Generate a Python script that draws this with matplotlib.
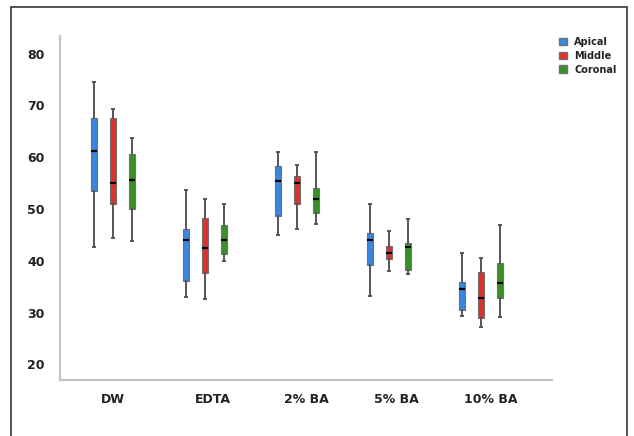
import numpy as np
import matplotlib
matplotlib.use("Agg")
import matplotlib.pyplot as plt
from matplotlib.patches import Patch, Rectangle

groups = ["DW", "EDTA", "2% BA", "5% BA", "10% BA"]
regions = ["Apical", "Middle", "Coronal"]
colors = ["#3b86e0", "#e0302e", "#3a8f2a"]

# per region: values for each group
whis_lo = {
    "Apical":  [42.6, 33.0, 45.0, 33.2, 29.4],
    "Middle":  [44.4, 32.7, 46.1, 38.0, 27.3],
    "Coronal": [43.8, 40.0, 47.1, 37.4, 29.2],
}
q1 = {
    "Apical":  [53.5, 36.1, 48.6, 39.2, 30.5],
    "Middle":  [50.9, 37.6, 50.9, 40.3, 28.9],
    "Coronal": [50.1, 41.4, 49.2, 38.3, 32.9],
}
median = {
    "Apical":  [61.2, 44.0, 55.4, 44.1, 34.5],
    "Middle":  [55.1, 42.5, 55.1, 41.6, 32.9],
    "Coronal": [55.7, 44.1, 52.0, 42.6, 35.8],
}
q3 = {
    "Apical":  [67.5, 46.1, 58.3, 45.3, 35.9],
    "Middle":  [67.5, 48.3, 56.4, 42.9, 37.9],
    "Coronal": [60.6, 46.9, 54.0, 43.5, 39.6],
}
whis_hi = {
    "Apical":  [74.5, 53.6, 61.0, 50.9, 41.5],
    "Middle":  [69.4, 51.9, 58.5, 45.8, 40.5],
    "Coronal": [63.8, 50.9, 61.0, 48.0, 46.9],
}

fig = plt.figure(figsize=(6.34, 4.36), dpi=100)
ax = fig.add_axes([60/634, 1 - 380/436, 492/634, 344/436])

x = np.arange(len(groups))
offset = 0.206
for k, r in enumerate(regions):
    stats = []
    for i in range(len(groups)):
        stats.append(dict(whislo=whis_lo[r][i], q1=q1[r][i], med=median[r][i],
                          q3=q3[r][i], whishi=whis_hi[r][i], fliers=[]))
    ax.bxp(stats, positions=x + (k - 1) * offset, widths=0.07,
           patch_artist=True, showfliers=False, manage_ticks=False,
           boxprops=dict(facecolor=colors[k], edgecolor="#707070", linewidth=0.8),
           medianprops=dict(color="black", linewidth=1.6),
           whiskerprops=dict(color="#555555", linewidth=1.4),
           capprops=dict(color="#555555", linewidth=1.4),
           capwidths=0.02)

ax.set_xlim(-0.576, 4.77)
ax.set_ylim(17, 83.4)
ax.set_yticks([20, 30, 40, 50, 60, 70, 80])
ax.set_xticks(x + np.array([0, 0.08, 0.1, 0.08, 0.1]))
ax.set_xticklabels(groups)
ax.tick_params(length=0, labelsize=9, colors="#222222")
ax.tick_params(axis="y", pad=11)
ax.tick_params(axis="x", pad=9)
for lab in ax.get_xticklabels() + ax.get_yticklabels():
    lab.set_fontweight("bold")
for s in ["top", "right"]:
    ax.spines[s].set_visible(False)
for s in ["left", "bottom"]:
    ax.spines[s].set_color("#c4c4c4")
    ax.spines[s].set_linewidth(1.6)

handles = [Patch(facecolor=c, edgecolor="#707070", label=r) for c, r in zip(colors, regions)]
leg = fig.legend(handles=handles, loc="upper left", bbox_to_anchor=(550/634, 1 - 28/436),
                 frameon=False, fontsize=7, handlelength=0.8, handleheight=0.8,
                 handletextpad=0.8, labelspacing=0.4)
for t in leg.get_texts():
    t.set_fontweight("semibold")
    t.set_color("#222222")

# outer frame of the figure panel
fig.add_artist(Rectangle((11/634, -0.05), (627 - 11)/634, 1.05 - 7/436,
                         transform=fig.transFigure, fill=False,
                         edgecolor="#333333", linewidth=1.2))

fig.savefig("out.png", dpi=100)
